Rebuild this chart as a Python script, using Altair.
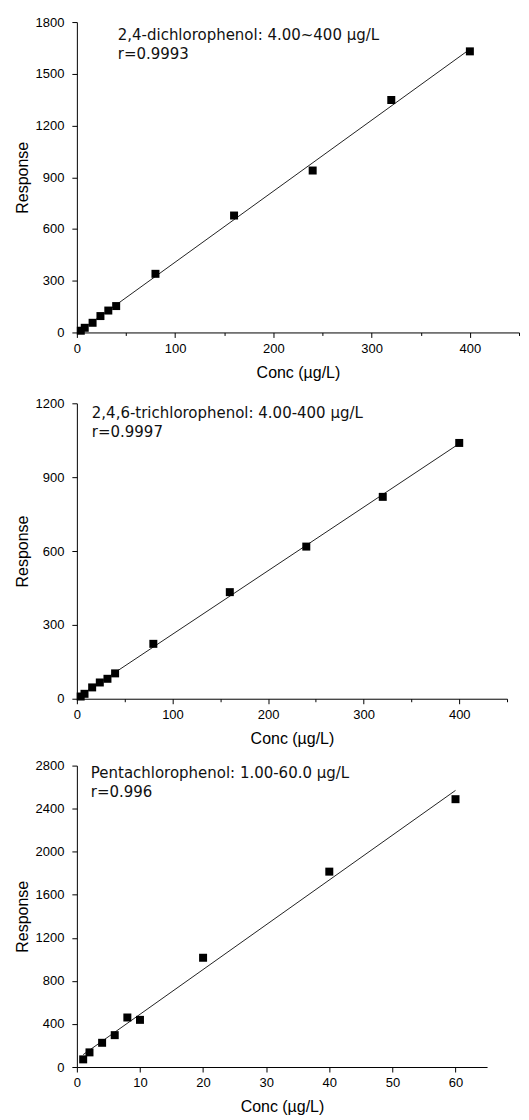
import json
import altair as alt
import pandas as pd

# ---- data ----
conc_dcp = [4, 8, 16, 24, 32, 40, 80, 160, 240, 320, 400]
resp_dcp = [10, 27, 56, 95, 127, 153, 340, 678, 939, 1348, 1630]

conc_tcp = [4, 8, 16, 24, 32, 40, 80, 160, 240, 320, 400]
resp_tcp = [9, 20, 46, 66, 81, 103, 223, 433, 618, 820, 1039]

conc_pcp = [1, 2, 4, 6, 8, 10, 20, 40, 60]
resp_pcp = [71, 136, 225, 296, 460, 438, 1015, 1815, 2488]

names = ["2,4-dichlorophenol: 4.00~400 \u00b5g/L",
         "2,4,6-trichlorophenol: 4.00-400 \u00b5g/L",
         "Pentachlorophenol: 1.00-60.0 \u00b5g/L"]
r_values = ["r=0.9993", "r=0.9997", "r=0.996"]

x_major_400 = [0, 100, 200, 300, 400]
x_minor_400 = [50, 150, 250, 350, 450]
y_major_dcp = [0, 300, 600, 900, 1200, 1500, 1800]
y_minor_dcp = [150, 450, 750, 1050, 1350, 1650]
y_major_tcp = [0, 300, 600, 900, 1200]
y_minor_tcp = [150, 450, 750, 1050]
x_major_60 = [0, 10, 20, 30, 40, 50, 60]
x_minor_60 = [5, 15, 25, 35, 45, 55, 65]
y_major_pcp = [0, 400, 800, 1200, 1600, 2000, 2400, 2800]
y_minor_pcp = [200, 600, 1000, 1400, 1800, 2200, 2600]

X_TITLE = "Conc (\u00b5g/L)"
Y_TITLE = "Response"


def make_axis(title, major, minor, label_pad, title_pad):
    vals = sorted(major + minor)
    test = "indexof(%s, datum.value) >= 0" % json.dumps(major)
    return alt.Axis(
        title=title,
        values=vals,
        format="d",
        labelExpr=f"{test} ? datum.label : ''",
        tickSize={"condition": {"test": test, "value": 5}, "value": 3},
        labelPadding=label_pad,
        titlePadding=title_pad,
        labelFlush=False,
        labelOverlap=False,
        grid=False,
        titleFontWeight=400,
        titleFont="Arial",
        titleFontSize=16,
        labelFont="Arial",
        labelFontSize=13,
    )


def panel(conc, resp, name, rval, xdom, ydom, xmaj, xmin, ymaj, ymin,
          w, h, tx, ty):
    df = pd.DataFrame({"conc": conc, "resp": resp})
    base = alt.Chart(df)
    xenc = alt.X("conc:Q", scale=alt.Scale(domain=xdom, nice=False, zero=True),
                 axis=make_axis(X_TITLE, xmaj, xmin, 5, 9))
    yenc = alt.Y("resp:Q", scale=alt.Scale(domain=ydom, nice=False, zero=True),
                 axis=make_axis(Y_TITLE, ymaj, ymin, 8, 5))
    pts = base.mark_square(size=64, filled=True, color="black", opacity=1).encode(
        x=xenc, y=yenc)
    fit = base.transform_regression("conc", "resp").mark_line(
        color="#222222", strokeWidth=1).encode(x="conc:Q", y="resp:Q")
    lab = alt.Chart(pd.DataFrame({"label": [name + "\n" + rval]})).mark_text(
        align="left", baseline="alphabetic", font="DejaVu Sans", fontSize=15,
        lineBreak="\n", lineHeight=19, color="#111111"
    ).encode(text="label:N", x=alt.value(tx), y=alt.value(ty))
    return alt.layer(fit, pts, lab).properties(width=w, height=h)


p1 = panel(conc_dcp, resp_dcp, names[0], r_values[0], [0, 450], [0, 1800],
           x_major_400, x_minor_400, y_major_dcp, y_minor_dcp, 443, 311, 41, 18)
p2 = panel(conc_tcp, resp_tcp, names[1], r_values[1], [0, 450], [0, 1200],
           x_major_400, x_minor_400, y_major_tcp, y_minor_tcp, 431, 296, 15, 15)
p3 = panel(conc_pcp, resp_pcp, names[2], r_values[2], [0, 65], [0, 2800],
           x_major_60, x_minor_60, y_major_pcp, y_minor_pcp, 411, 302, 14, 12)

lower = alt.vconcat(p2, p3, spacing=13)
chart = alt.vconcat(p1, lower, spacing=17).properties(
    padding={"left": 6, "top": 7, "right": 1, "bottom": 0}
).configure_view(stroke=None).configure_axis(
    domainColor="black", tickColor="black", labelColor="black",
    titleColor="black", domainWidth=1, tickWidth=1, titleFontWeight=400
)

chart.save("out.html", embed_options={"renderer": "svg", "actions": False})
